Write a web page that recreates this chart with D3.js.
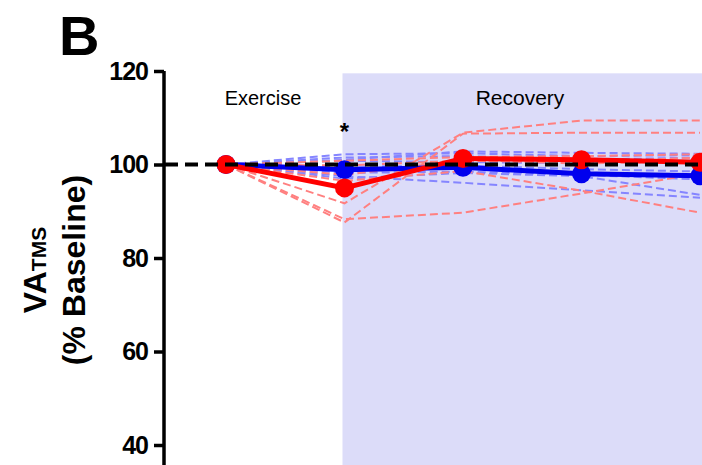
<!DOCTYPE html>
<html>
<head>
<meta charset="utf-8">
<script src="https://cdn.jsdelivr.net/npm/d3@7"></script>
<style>
  body { margin: 0; background: #fff; }
  svg { display: block; font-family: "Liberation Sans", Arial, sans-serif; }
</style>
</head>
<body>
<svg id="chart" width="702" height="465"></svg>
<script>
// time points: baseline, end of exercise, then recovery
var timePoints = [0, 1, 2, 3, 4];
var yTicks = [40, 60, 80, 100, 120];

// group means (% baseline)
var redMean  = [100, 95.0, 101.3, 101.0, 100.5];
var blueMean = [100, 98.9, 99.4, 98.0, 97.6];

// individual subjects
var redSubjects = [
  [100, 91.7, 106.8, 109.4, 109.4],
  [100, 87.6, 106.6, 106.8, 106.8],
  [100, 88.3, 89.7, 93.8, 98.1],
  [100, 96.5, 98.6, 94.4, 89.7],
  [100, 100.8, 101.6, 101.8, 102.2],
  [100, 99.8, 100.8, 100.5, 101.5],
  [100, 97.8, 101.0, 100.2, 100.8]
];
var blueSubjects = [
  [100, 102.2, 102.4, 101.8, 102.0],
  [100, 101.5, 101.8, 101.0, 101.5],
  [100, 100.8, 100.5, 100.3, 100.8],
  [100, 99.5, 99.8, 99.0, 98.5],
  [100, 98.2, 98.5, 97.8, 96.8],
  [100, 97.5, 96.1, 94.5, 92.9],
  [100, 97.0, 98.2, 97.5, 93.5],
  [100, 101.0, 102.8, 102.5, 102.3]
];

var svg = d3.select("#chart");

var x = d3.scaleLinear().domain([0, 4]).range([226, 700]);
var y = d3.scaleLinear().domain([0, 120]).range([632, 71]);

// recovery shading
svg.append("rect")
  .attr("x", x(1) - 2)
  .attr("y", y(119.5))
  .attr("width", 702 - x(1) + 2)
  .attr("height", 465 - y(119.5))
  .attr("fill", "#dcdcf9");

svg.append("text")
  .attr("x", 263).attr("y", 105)
  .attr("text-anchor", "middle")
  .attr("font-size", 20)
  .text("Exercise");

svg.append("text")
  .attr("x", 520).attr("y", 105)
  .attr("text-anchor", "middle")
  .attr("font-size", 21)
  .text("Recovery");

svg.append("text")
  .attr("x", x(1)).attr("y", 140)
  .attr("text-anchor", "middle")
  .attr("font-size", 24)
  .attr("font-weight", "bold")
  .text("*");

var line = d3.line()
  .x(function(d, i) { return x(timePoints[i]); })
  .y(function(d) { return y(d); });

svg.selectAll(".blueInd")
  .data(blueSubjects)
  .enter().append("path")
  .attr("class", "blueInd")
  .attr("d", line)
  .attr("fill", "none")
  .attr("stroke", "#8585ff")
  .attr("stroke-width", 2)
  .attr("stroke-dasharray", "8,4");

svg.selectAll(".redInd")
  .data(redSubjects)
  .enter().append("path")
  .attr("class", "redInd")
  .attr("d", line)
  .attr("fill", "none")
  .attr("stroke", "#ff8080")
  .attr("stroke-width", 2)
  .attr("stroke-dasharray", "8,4");

// blue mean
svg.append("path")
  .attr("d", line(blueMean))
  .attr("fill", "none")
  .attr("stroke", "#0000ee")
  .attr("stroke-width", 5);
svg.selectAll(".blueDot")
  .data(blueMean)
  .enter().append("circle")
  .attr("class", "blueDot")
  .attr("cx", function(d, i) { return x(timePoints[i]); })
  .attr("cy", function(d) { return y(d); })
  .attr("r", 9.5)
  .attr("fill", "#0000ee");

// red mean
svg.append("path")
  .attr("d", line(redMean))
  .attr("fill", "none")
  .attr("stroke", "#ff0000")
  .attr("stroke-width", 5);
svg.selectAll(".redDot")
  .data(redMean)
  .enter().append("circle")
  .attr("class", "redDot")
  .attr("cx", function(d, i) { return x(timePoints[i]); })
  .attr("cy", function(d) { return y(d); })
  .attr("r", 9.5)
  .attr("fill", "#ff0000");

// baseline reference
svg.append("line")
  .attr("x1", 165).attr("x2", 702)
  .attr("y1", y(100)).attr("y2", y(100))
  .attr("stroke", "#000")
  .attr("stroke-width", 4)
  .attr("stroke-dasharray", "13,7");

// y axis
var yAxis = svg.append("g")
  .attr("transform", "translate(164,0)")
  .call(d3.axisLeft(y).tickValues(yTicks).tickSize(10).tickPadding(6));
yAxis.select(".domain")
  .attr("stroke-width", 3.5)
  .attr("d", "M0," + y(120) + "V" + 465);
yAxis.selectAll(".tick line").attr("stroke-width", 3.5);
yAxis.selectAll(".tick text")
  .attr("font-family", "Liberation Sans, Arial, sans-serif")
  .attr("font-size", 25)
  .attr("font-weight", "bold")
  .attr("fill", "#000")
  .attr("letter-spacing", -1);

// y title
var title = svg.append("text")
  .attr("transform", "translate(46,270) rotate(-90)")
  .attr("text-anchor", "middle")
  .attr("font-weight", "bold")
  .attr("font-size", 32);
title.append("tspan").text("VA");
title.append("tspan").attr("font-size", 21).text("TMS");

svg.append("text")
  .attr("transform", "translate(85,270) rotate(-90)")
  .attr("text-anchor", "middle")
  .attr("font-weight", "bold")
  .attr("font-size", 32)
  .text("(% Baseline)");

// panel letter
svg.append("text")
  .attr("x", 59).attr("y", 55)
  .attr("font-weight", "bold")
  .attr("font-size", 56)
  .text("B");
</script>
</body>
</html>
